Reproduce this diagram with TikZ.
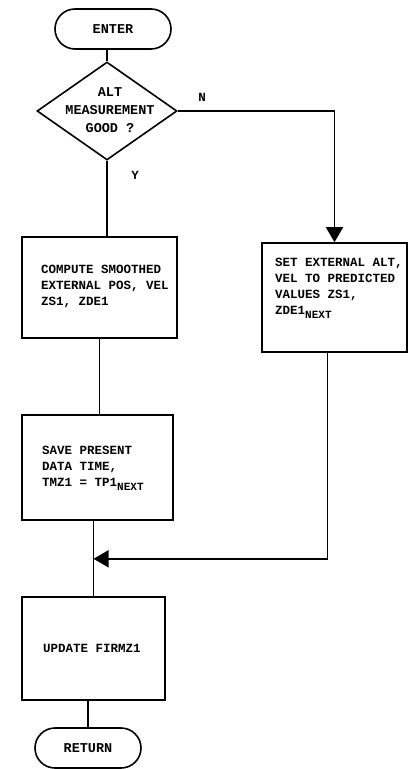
\documentclass[tikz,border=0pt]{standalone}
\usepackage{fontspec}
\setmonofont{Liberation Mono}
\usetikzlibrary{shapes.geometric,arrows.meta,calc}
\tikzset{
  flow/.style={line width=1.6bp},
  term/.style={draw, line width=1.6bp, rounded corners=20bp, minimum width=#1,
    minimum height=40bp, inner sep=0pt,
    font=\ttfamily\bfseries\fontsize{13.5bp}{16bp}\selectfont},
  procbox/.style 2 args={draw, line width=1.6bp, minimum width=#1,
    minimum height=#2, inner sep=0pt},
  txt/.style={font=\ttfamily\bfseries\fontsize{12.5bp}{16bp}\selectfont,
    align=left, inner sep=0pt},
  arr/.style={-{Triangle[length=15bp,width=17bp]}},
}
\newcommand{\nxtsub}{\raisebox{-4bp}{\fontsize{11bp}{11bp}\selectfont NEXT}}
\begin{document}
\begin{tikzpicture}[x=1bp,y=-1bp]
\useasboundingbox[fill=white] (0,0) rectangle (411,769);

% terminals, decision and process boxes
\node[term=116bp] (enter) at (113,29) {ENTER};
\node[draw, diamond, line width=1.6bp, minimum width=140bp,
      minimum height=98bp, inner sep=0pt] (dec) at (107,111) {};
\node[txt, align=center, font=\ttfamily\bfseries\fontsize{13.5bp}{18bp}\selectfont]
      (dectxt) at (110,110) {ALT\\MEASUREMENT\\GOOD ?};
\node[txt] (nlab) at (202,97) {N};
\node[txt] (ylab) at (135,175) {Y};

\node[procbox={155bp}{101bp}] (compute) at (99.5,287.5) {};
\node[txt, anchor=west] (computetxt) at (41,286)
      {COMPUTE SMOOTHED\\EXTERNAL POS, VEL\\ZS1, ZDE1};

\node[procbox={145bp}{109bp}] (setbox) at (334.5,297.5) {};
\node[txt, anchor=west] (settxt) at (275,288)
      {SET EXTERNAL ALT,\\VEL TO PREDICTED\\VALUES ZS1,\\ZDE1\nxtsub};

\node[procbox={151bp}{105bp}] (save) at (97.5,467.5) {};
\node[txt, anchor=west] (savetxt) at (42,468)
      {SAVE PRESENT\\DATA TIME,\\TMZ1 = TP1\nxtsub};

\node[procbox={143bp}{103bp}] (update) at (93.5,648.5) {};
\node[txt, anchor=west] (updatetxt) at (43,648) {UPDATE FIRMZ1};

\node[term=106bp] (return) at (88,748) {RETURN};

% connectors
\draw[flow] (dec.north |- enter.south) -- (dec.north);
\coordinate (turn) at (dec.east -| setbox.north);
\draw[flow, arr] (dec.east) -- (turn) -- (setbox.north);
\draw[flow] (dec.south) -- (dec.south |- compute.north);
\draw[flow] (compute.south) -- (compute.south |- save.north);
\draw[flow] (update.north |- save.south) -- (update.north);
\coordinate (join) at ($(setbox.south)+(-7,0)$);
\coordinate (joinlow) at ($(join)+(0,206)$);
\draw[flow] (join) -- (joinlow);
\draw[flow, arr] (joinlow) -- (joinlow -| update.north);
\draw[flow] (return.north |- update.south) -- (return.north);
\end{tikzpicture}
\end{document}
